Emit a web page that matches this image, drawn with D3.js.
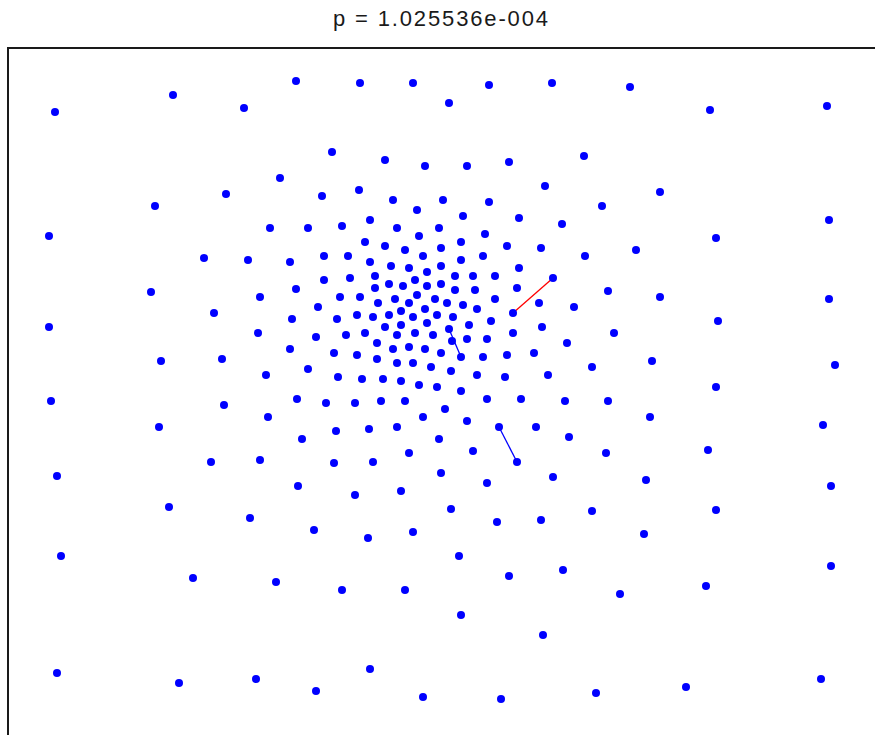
<!DOCTYPE html>
<html>
<head>
<meta charset="utf-8">
<script src="https://cdn.jsdelivr.net/npm/d3@7"></script>
<style>
  body { margin: 0; background: #fff; }
  svg { display: block; }
</style>
</head>
<body>
<div id="chart"></div>
<script>
const title = "p = 1.025536e-004"

// point positions, in plot units (origin at the top left of the box, y grows downward)
const pointX = [
    47, 165, 236, 288, 272, 218, 147, 41, 262, 196, 240, 282, 143, 288,
    352, 405, 481, 544, 441, 324, 377, 417, 459, 501, 576, 537, 314, 351, 385, 435,
    481, 409, 455, 511, 554, 300, 334, 362, 389, 431, 411, 477, 357, 377, 397, 433,
    453, 499, 533, 316, 340, 362, 383, 415, 401, 433, 453, 475, 511, 577, 316, 342,
    367, 419, 447, 465, 487, 545, 381, 395, 407, 433, 419, 367, 447, 467, 509,
    622, 702, 819, 652, 594, 821, 708, 628, 600,
    252, 41, 206, 284, 250, 282, 153, 214, 258, 43, 289, 216, 260, 151, 294, 203,
    252, 49, 290, 161,
    332, 352, 409, 427, 387, 370, 401, 439, 455, 487, 531, 566, 310, 469, 417, 393,
    349, 365, 381, 405, 429, 445, 505, 329, 483, 377, 393, 419, 441, 461, 534, 338,
    357, 389, 407, 425, 308, 444, 459, 479, 505, 369, 401, 417, 385, 559, 326, 349,
    433, 453, 475, 499, 526, 369, 389, 405, 300, 423, 443, 584, 330, 354, 375, 393,
    469, 497, 540, 411, 429, 453, 318, 347, 373, 397, 479, 513, 557, 437, 415, 459,
    491, 528, 328, 361, 389, 431, 561, 401, 465, 509, 326, 365, 433, 545, 479, 347,
    393, 443,
    652, 821, 710, 606, 644, 827, 708, 600, 642, 815, 598, 700, 638, 823, 584, 708,
    242, 53, 185, 268, 49, 171, 248,
    306, 360, 405, 489, 533, 451, 501, 555, 334, 397, 453, 535, 362, 308, 415, 493,
    636, 823, 698, 612, 588, 678, 813
]
const pointY = [
    64, 47, 60, 33, 130, 146, 158, 188, 180, 210, 212, 214, 244, 241,
    35, 35, 37, 35, 55, 104, 112, 118, 118, 114, 108, 138, 148, 142, 152, 152,
    154, 162, 168, 170, 176, 180, 178, 172, 180, 180, 188, 186, 194, 198, 202, 200,
    194, 198, 200, 208, 208, 214, 218, 208, 220, 218, 212, 208, 220, 208, 232, 230,
    228, 224, 228, 228, 228, 230, 236, 238, 232, 236, 238, 240, 242, 242, 240,
    39, 62, 58, 144, 158, 172, 190, 202, 243,
    249, 279, 265, 271, 285, 301, 313, 311, 327, 353, 351, 357, 369, 379, 391, 414,
    412, 428, 438, 459,
    249, 249, 247, 251, 251, 255, 255, 255, 257, 251, 255, 259, 259, 261, 261, 263,
    267, 269, 267, 269, 267, 269, 265, 271, 273, 279, 277, 275, 281, 277, 279, 287,
    285, 287, 285, 287, 289, 293, 291, 291, 285, 295, 299, 301, 301, 295, 305, 307,
    305, 309, 309, 307, 305, 311, 315, 315, 321, 319, 323, 319, 329, 331, 331, 333,
    327, 329, 327, 337, 339, 343, 355, 355, 353, 353, 351, 351, 353, 361, 369, 373,
    379, 379, 383, 381, 379, 391, 389, 405, 403, 414, 415, 414, 425, 429, 435, 447,
    443, 461,
    249, 251, 273, 285, 313, 317, 339, 353, 369, 377, 405, 402, 432, 438, 463, 462,
    470, 508, 530, 534, 625, 635, 631,
    482, 490, 484, 474, 472, 508, 528, 522, 542, 542, 567, 587, 621, 643, 649, 651,
    486, 518, 538, 546, 645, 639, 631
]

// displacement segments between two points (by index)
const segFrom = [67, 134, 186]
const segTo = [128, 155, 195]
const segKind = ["outward", "inward", "inward"]

const width = 875
const height = 735

const kindColors = {
    "outward": "#ff0000",
    "inward": "#0000ff"
}

const points = pointX.map(function(x, i) {
    return { x: x, y: pointY[i] }
})

const segments = segFrom.map(function(f, i) {
    return { a: points[f], b: points[segTo[i]], kind: segKind[i] }
})

const xScale = d3.scaleLinear().domain([0, 872]).range([8, 880])
const yScale = d3.scaleLinear().domain([0, 690]).range([48, 738])

const svg = d3.select('#chart').append('svg').attr('width', width).attr('height', height)

svg.append('text')
    .attr('x', 440.5)
    .attr('y', 26)
    .attr('text-anchor', 'middle')
    .attr('font-family', 'Liberation Sans, Arial, sans-serif')
    .attr('font-size', '22px')
    .attr('textLength', 215)
    .attr('lengthAdjust', 'spacing')
    .attr('fill', '#1a1a1a')
    .text(title)

// axes box (right and bottom sides fall outside the window)
svg.append('rect')
    .attr('x', xScale(0))
    .attr('y', yScale(0))
    .attr('width', xScale(872) - xScale(0))
    .attr('height', yScale(690) - yScale(0))
    .attr('fill', 'none')
    .attr('stroke', '#1a1a1a')
    .attr('stroke-width', 2)

svg.selectAll('line.seg').data(segments)
    .enter()
    .append('line')
    .attr('class', 'seg')
    .attr('x1', function(d) { return xScale(d.a.x) })
    .attr('y1', function(d) { return yScale(d.a.y) })
    .attr('x2', function(d) { return xScale(d.b.x) })
    .attr('y2', function(d) { return yScale(d.b.y) })
    .attr('stroke', function(d) { return kindColors[d.kind] })
    .attr('stroke-width', 1.3)

svg.selectAll('circle').data(points)
    .enter()
    .append('circle')
    .attr('cx', function(d) { return xScale(d.x) })
    .attr('cy', function(d) { return yScale(d.y) })
    .attr('r', 4)
    .attr('fill', '#0000ff')
</script>
</body>
</html>
